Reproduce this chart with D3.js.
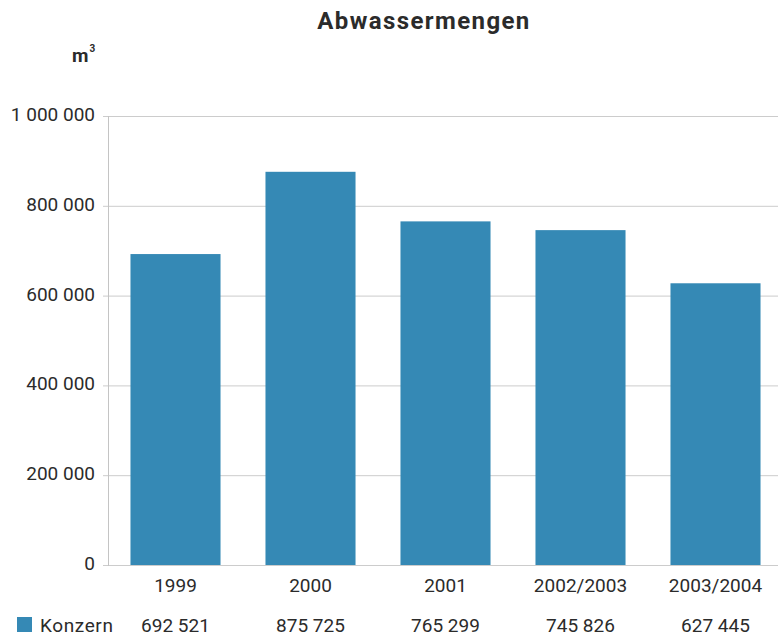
<!DOCTYPE html>
<html>
<head>
<meta charset="utf-8">
<script src="https://cdn.jsdelivr.net/npm/d3@7"></script>
<style>
  body { margin: 0; background: #fff; }
  text { font-family: Roboto, "DejaVu Sans", sans-serif; fill: #2b2b2b; }
</style>
</head>
<body>
<svg id="chart" width="778" height="635"></svg>
<script>
// Daten
const years = ["1999", "2000", "2001", "2002/2003", "2003/2004"];
const konzern = [692521, 875725, 765299, 745826, 627445];
const yTicks = [0, 200000, 400000, 600000, 800000, 1000000];
const seriesName = "Konzern";

const data = years.map((y, i) => ({ year: y, value: konzern[i] }));

const margin = { top: 116, left: 108, bottom: 565 };
const svg = d3.select("#chart");

const fmt = v => d3.format(",")(v).replace(/,/g, " ");

const x = d3.scaleBand()
  .domain(years)
  .range([margin.left, 783])
  .paddingInner(0.333)
  .paddingOuter(0.1665);

const y = d3.scaleLinear()
  .domain([0, 1000000])
  .range([margin.bottom, margin.top]);

// Gitterlinien
svg.append("g")
  .selectAll("line")
  .data(yTicks)
  .enter()
  .append("line")
  .attr("x1", margin.left - 5)
  .attr("x2", 778)
  .attr("y1", d => y(d) + 0.5)
  .attr("y2", d => y(d) + 0.5)
  .attr("stroke", "#cccccc")
  .attr("stroke-width", 1);

// Y-Achse
svg.append("line")
  .attr("x1", margin.left + 0.5)
  .attr("x2", margin.left + 0.5)
  .attr("y1", margin.top)
  .attr("y2", margin.bottom + 1)
  .attr("stroke", "#c4c4c4");

svg.append("g")
  .selectAll("text")
  .data(yTicks)
  .enter()
  .append("text")
  .attr("x", 95)
  .attr("y", d => y(d) + 5)
  .attr("text-anchor", "end")
  .style("font-size", "19px")
  .text(d => fmt(d));

// Balken
svg.append("g")
  .selectAll("rect")
  .data(data)
  .enter()
  .append("rect")
  .attr("x", d => x(d.year))
  .attr("y", d => y(d.value))
  .attr("width", x.bandwidth())
  .attr("height", d => y(0) - y(d.value))
  .attr("fill", "#3589b5");

// X-Beschriftung
svg.append("g")
  .selectAll("text")
  .data(data)
  .enter()
  .append("text")
  .attr("x", d => x(d.year) + x.bandwidth() / 2)
  .attr("y", 592)
  .attr("text-anchor", "middle")
  .style("font-size", "19px")
  .text(d => d.year);

// Datentabelle
svg.append("g")
  .selectAll("text")
  .data(data)
  .enter()
  .append("text")
  .attr("x", d => x(d.year) + x.bandwidth() / 2)
  .attr("y", 632)
  .attr("text-anchor", "middle")
  .style("font-size", "19px")
  .text(d => fmt(d.value));

svg.append("rect")
  .attr("x", 17)
  .attr("y", 617)
  .attr("width", 15)
  .attr("height", 15)
  .attr("fill", "#3589b5");

svg.append("text")
  .attr("x", 40)
  .attr("y", 632)
  .style("font-size", "19px")
  .style("letter-spacing", "0.6px")
  .text(seriesName);

// Titel
svg.append("text")
  .attr("x", 424)
  .attr("y", 29)
  .attr("text-anchor", "middle")
  .style("font-size", "24px")
  .style("font-weight", "bold")
  .style("letter-spacing", "1.4px")
  .text("Abwassermengen");

// Einheit
const unit = svg.append("text")
  .attr("x", 72)
  .attr("y", 62)
  .style("font-size", "19px")
  .style("font-weight", "bold");
unit.append("tspan").text("m");
unit.append("tspan")
  .attr("dx", "1")
  .attr("dy", "-10")
  .style("font-size", "10px")
  .text("3");
</script>
</body>
</html>
